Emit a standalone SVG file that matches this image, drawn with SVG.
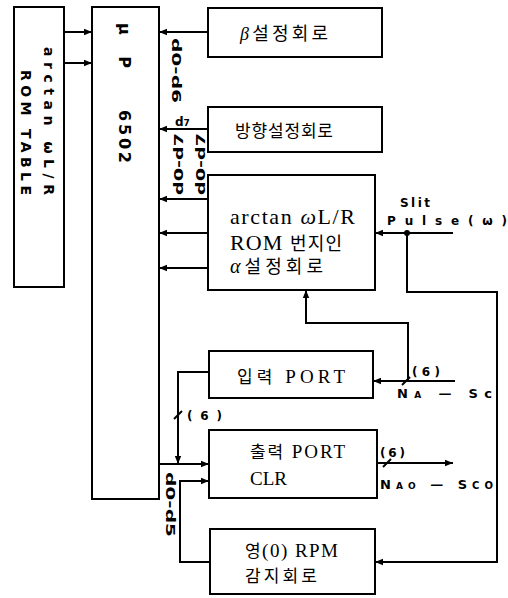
<svg xmlns="http://www.w3.org/2000/svg" width="508" height="598" viewBox="0 0 508 598">
<defs>
<style>
.box{fill:#fff;stroke:#000;stroke-width:2}
.ln{fill:none;stroke:#000;stroke-width:2}
.arr{marker-end:url(#ah)}
.lbl{font-family:"DejaVu Sans","Liberation Sans",sans-serif;font-weight:bold;fill:#000}
.txt{font-family:"Liberation Serif","Noto Sans CJK KR",serif;fill:#000}
.kr{font-family:"Noto Sans CJK KR",sans-serif}
</style>
<marker id="ah" viewBox="0 0 10 10" refX="10" refY="5" markerWidth="8" markerHeight="8" markerUnits="userSpaceOnUse" orient="auto"><path d="M0,1 L10,5 L0,9 z" fill="#000"/></marker>
</defs>
<rect width="508" height="598" fill="#fff"/>

<g id="connectors">
<path class="ln arr" d="M64,32 H92"/>
<path class="ln arr" d="M64,63 H92"/>
<path class="ln arr" d="M208,32 H159"/>
<path class="ln arr" d="M208,129 H159"/>
<path class="ln arr" d="M208,199 H159"/>
<path class="ln arr" d="M208,233 H159"/>
<path class="ln arr" d="M208,268 H159"/>
<path class="ln arr" d="M453,233 H375"/>
<path class="ln arr" d="M407,233 V292 H497 V562 H375"/>
<circle cx="407" cy="233" r="3" fill="#000"/>
<path class="ln arr" d="M455,381 H373"/>
<path class="ln arr" d="M408,381 V323 H306 V290"/>
<path class="ln arr" d="M209,372 H178 V464"/>
<path class="ln arr" d="M159,464 H209"/>
<path class="ln arr" d="M210,562 H180 V481 H209"/>
<path class="ln arr" d="M377,463 H453"/>
<path class="ln" d="M174,419 L182,411"/>
<path class="ln" d="M402,385 L410,377"/>
<path class="ln" d="M383,467 L391,459"/>
<text class="lbl" font-size="12" transform="translate(176,38) rotate(90)" y="4.5" textLength="65" lengthAdjust="spacingAndGlyphs">d0-d6</text>
<text class="lbl" font-size="12" x="175" y="126">d<tspan font-size="9">7</tspan></text>
<text class="lbl" font-size="12" transform="translate(178,195) rotate(-90)" y="4.5" textLength="62" lengthAdjust="spacingAndGlyphs">d0-d7</text>
<text class="lbl" font-size="12" transform="translate(200,195) rotate(-90)" y="4.5" textLength="62" lengthAdjust="spacingAndGlyphs">d0-d7</text>
<text class="lbl" font-size="12" transform="translate(170,472) rotate(90)" y="4.5" textLength="65" lengthAdjust="spacingAndGlyphs">d0-d5</text>
<text class="lbl" font-size="11" x="115" y="244" textLength="40" lengthAdjust="spacing">NMI</text>
<text class="lbl" font-size="11" x="117" y="273" textLength="38" lengthAdjust="spacing">IRQ</text>
<text class="lbl" font-size="12" x="400" y="207" textLength="30" lengthAdjust="spacing">Slit</text>
<text class="lbl" font-size="12" x="387" y="225" textLength="120" lengthAdjust="spacing">Pulse(ω)</text>
<text class="lbl" font-size="12" x="187" y="420" textLength="35" lengthAdjust="spacing">(6)</text>
<text class="lbl" font-size="12" x="412" y="376" textLength="28" lengthAdjust="spacing">(6)</text>
<text class="lbl" font-size="13" x="397" y="398" textLength="95" lengthAdjust="spacing">N<tspan font-size="9">A</tspan> — Sc</text>
<text class="lbl" font-size="12" x="380" y="457" textLength="25" lengthAdjust="spacing">(6)</text>
<text class="lbl" font-size="13" x="380" y="489" textLength="113" lengthAdjust="spacing">N<tspan font-size="9">AO</tspan> — S<tspan font-size="10">CO</tspan></text>
</g>

<g id="rom-table">
<rect class="box" x="14" y="7" width="50" height="280"/>
<text class="lbl" font-size="14" transform="translate(49,47) rotate(90)" y="5" textLength="148" lengthAdjust="spacing">arctan ωL/R</text>
<text class="lbl" font-size="14" transform="translate(26,70) rotate(90)" y="5" textLength="125" lengthAdjust="spacing">ROM TABLE</text>
</g>

<g id="mpu">
<rect class="box" x="92" y="7" width="67" height="492"/>
<text class="lbl" font-size="16" transform="translate(125,23) rotate(90)" y="6" letter-spacing="8">μ P</text>
<text class="lbl" font-size="16" transform="translate(125,110) rotate(90)" y="6" textLength="53" lengthAdjust="spacing">6502</text>
</g>

<g id="beta">
<rect class="box" x="208" y="8" width="174" height="49"/>
<text class="txt" font-size="18" x="240" y="40" textLength="88" lengthAdjust="spacing"><tspan font-style="italic">β</tspan><tspan class="kr">설정회로</tspan></text>
</g>

<g id="direction">
<rect class="box" x="208" y="107" width="174" height="45"/>
<text class="txt kr" font-size="17" x="235" y="137" textLength="98" lengthAdjust="spacing">방향설정회로</text>
</g>

<g id="alpha">
<rect class="box" x="208" y="175" width="167" height="115"/>
<text class="txt" font-size="22" x="230" y="224" textLength="125" lengthAdjust="spacing">arctan <tspan font-style="italic">ω</tspan>L/R</text>
<text class="txt" font-size="22" x="230" y="250" textLength="112" lengthAdjust="spacing">ROM <tspan class="kr" font-size="18">번지인</tspan></text>
<text class="txt" font-size="20" x="230" y="273" textLength="93" lengthAdjust="spacing"><tspan font-style="italic">α</tspan><tspan class="kr" font-size="18">설정회로</tspan></text>
</g>

<g id="input-port">
<rect class="box" x="209" y="351" width="164" height="47"/>
<text class="txt" font-size="19" x="237" y="383" textLength="108" lengthAdjust="spacing"><tspan class="kr" font-size="17">입력</tspan> PORT</text>
</g>

<g id="output-port">
<rect class="box" x="209" y="430" width="168" height="68"/>
<text class="txt" font-size="19" x="250" y="458" textLength="95" lengthAdjust="spacing"><tspan class="kr" font-size="17">출력</tspan> PORT</text>
<text class="txt" font-size="19" x="250" y="485">CLR</text>
</g>

<g id="zero-rpm">
<rect class="box" x="210" y="529" width="165" height="65"/>
<text class="txt" font-size="19" x="245" y="557" textLength="93" lengthAdjust="spacing"><tspan class="kr" font-size="17">영</tspan>(0) RPM</text>
<text class="txt kr" font-size="17" x="245" y="582" textLength="72" lengthAdjust="spacing">감지회로</text>
</g>
</svg>
